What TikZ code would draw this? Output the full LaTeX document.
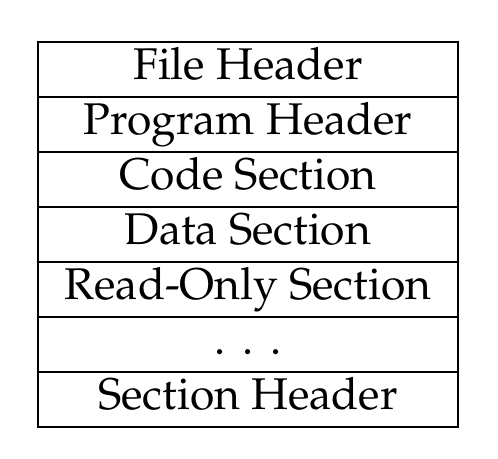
\documentclass[tikz,border=0pt]{standalone}
\usepackage[T1]{fontenc}
\usepackage{mathpazo}
\usetikzlibrary{positioning}

\begin{document}
\begin{tikzpicture}[x=1pt, y=1pt, node distance=0pt,
    every node/.style={font=\fontsize{11.1}{13}\selectfont},
    layer/.style={draw, line width=0.4pt, minimum width=105pt, text height=9.45pt, text depth=4.3pt, inner sep=0pt, outer sep=0pt}]
    \useasboundingbox (0,0) rectangle (124.5,114.5);
    \node[layer, anchor=north west] (fh) at (9.5,104) {File Header};
    \node[layer, below=of fh] (ph) {Program Header};
    \node[layer, below=of ph] (code) {Code Section};
    \node[layer, below=of code] (data) {Data Section};
    \node[layer, below=of data] (ro) {Read-Only Section};
    \node[layer, below=of ro] (more) {.\hspace{4.2pt}.\hspace{4.2pt}.};
    \node[layer, below=of more] (sh) {Section Header};
  \end{tikzpicture}
\end{document}
